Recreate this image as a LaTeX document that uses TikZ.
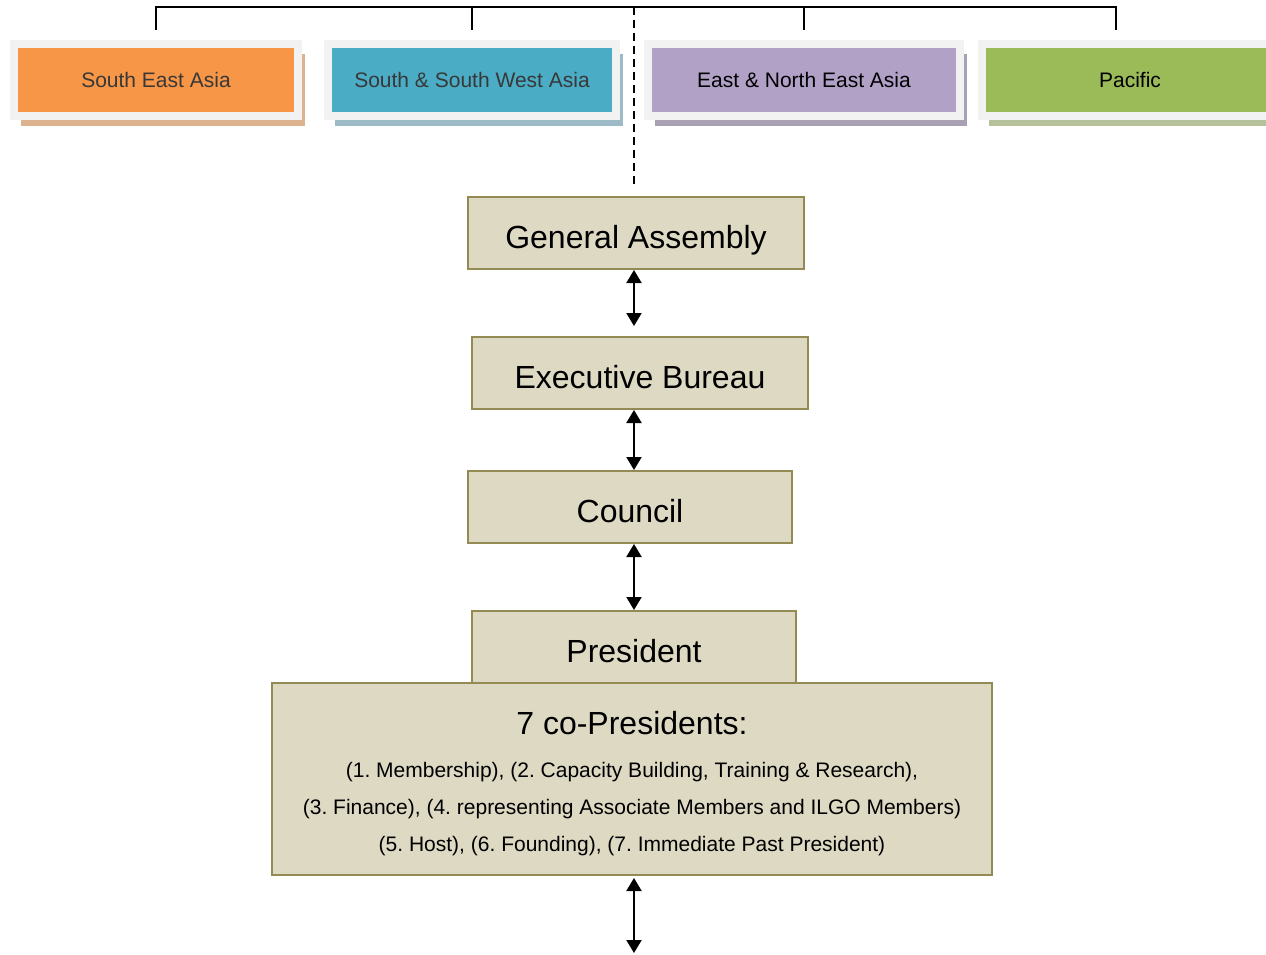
\documentclass[tikz,border=0pt]{standalone}
\usepackage{fontspec}
\setmainfont{Liberation Sans}
\usepackage{xcolor}
\usetikzlibrary{arrows.meta,positioning,shadows,calc}
\frenchspacing

\definecolor{seaorange}{HTML}{F79646}
\definecolor{sswblue}{HTML}{4BACC6}
\definecolor{eneapurple}{HTML}{B2A1C7}
\definecolor{pacgreen}{HTML}{9BBB59}
\definecolor{seashade}{HTML}{DDB28F}
\definecolor{sswshade}{HTML}{9DBBC6}
\definecolor{eneashade}{HTML}{A8A1B3}
\definecolor{pacshade}{HTML}{B5C19A}
\definecolor{framegray}{HTML}{F2F2F2}
\definecolor{boxfill}{HTML}{DDD9C3}
\definecolor{boxline}{HTML}{948A54}
\definecolor{darklabel}{HTML}{383838}

\begin{document}
\begin{tikzpicture}[x=1pt, y=-1pt, >={Triangle[length=13pt,width=15pt]}]
    \tikzset{
        region/.style={draw=framegray, line width=8pt, rectangle, minimum height=72pt, inner sep=0pt, text depth=0pt, font=\fontsize{21}{25}\selectfont},
        block/.style={draw=boxline, fill=boxfill, line width=2pt, rectangle, inner sep=0pt, align=center},
        unit/.style={block, minimum height=72pt, text height=30pt, text depth=0pt, font=\fontsize{32}{38}\selectfont},
        link/.style={draw, <->, line width=2pt},
        conn/.style={draw, line width=1.5pt}
    }
    \useasboundingbox (0,0) rectangle (1266,955);

    % regional sections
    \node [region, fill=seaorange, text=darklabel, minimum width=284pt, drop shadow={fill=seashade, opacity=1, shadow xshift=7pt, shadow yshift=-10pt}] (sea) at (156,80) {South East Asia};
    \node [region, fill=sswblue, text=darklabel, minimum width=288pt, drop shadow={fill=sswshade, opacity=1, shadow xshift=7pt, shadow yshift=-10pt}] (ssw) at (472,80) {South \& South West Asia};
    \node [region, fill=eneapurple, text=black, minimum width=312pt, drop shadow={fill=eneashade, opacity=1, shadow xshift=7pt, shadow yshift=-10pt}] (enea) at (804,80) {East \& North East Asia};
    \node [region, fill=pacgreen, text=black, minimum width=296pt, drop shadow={fill=pacshade, opacity=1, shadow xshift=7pt, shadow yshift=-10pt}] (pac) at (1130,80) {Pacific};

    % governing bodies
    \node [unit, minimum width=336pt] (ga) at (636,233) {General Assembly};
    \node [unit, minimum width=336pt, below=66pt of ga, xshift=4pt] (eb) {Executive Bureau};
    \node [unit, minimum width=324pt, below=60pt of eb, xshift=-10pt] (council) {Council};
    \node [unit, minimum width=324pt, below=66pt of council, xshift=4pt] (pres) {President};
    \node [block, minimum width=720pt, minimum height=192pt, below=-2pt of pres, xshift=-2pt, font=\fontsize{21}{37}\selectfont] (copres)
        {{\fontsize{32}{38}\selectfont\rule{0pt}{32pt}7 co-Presidents:}\\[6pt]
         (1. Membership), (2. Capacity Building, Training \& Research),\\
         (3. Finance), (4. representing Associate Members and ILGO Members)\\
         (5. Host), (6. Founding), (7. Immediate Past President)};

    \coordinate (bus) at (634,7);
    \coordinate (tail) at (634,953);

    \draw [conn] ([yshift=10pt]sea.north) |- (bus) -| ([xshift=-14pt,yshift=10pt]pac.north);
    \draw [conn] ([yshift=10pt]ssw.north) -- (ssw.north |- bus);
    \draw [conn] ([yshift=10pt]enea.north) -- (enea.north |- bus);
    \draw [conn, dash pattern=on 8pt off 5pt] (bus) -- ($(ga.north -| bus)+(0,-12)$);

    \path [link] (ga.south -| bus) -- ($(eb.north -| bus)+(0,-10)$);
    \path [link] (eb.south -| bus) -- (council.north -| bus);
    \path [link] (council.south -| bus) -- (pres.north -| bus);
    \path [link] ($(copres.south -| bus)+(0,2)$) -- (tail);
\end{tikzpicture}
\end{document}
